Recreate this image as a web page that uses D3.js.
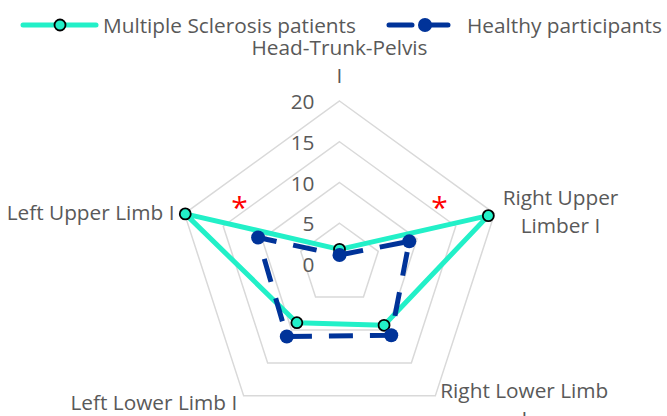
<!DOCTYPE html>
<html><head><meta charset="utf-8">
<script src="https://cdn.jsdelivr.net/npm/d3@7"></script>
<style>html,body{margin:0;padding:0;background:#fff;}svg{display:block;}</style>
</head><body>
<script>
const categories = ["Head-Trunk-Pelvis I", "Right Upper Limber I", "Right Lower Limb I", "Left Lower Limb I", "Left Upper Limb I"];
const labelLines = [["Head-Trunk-Pelvis", "I"], ["Right Upper", "Limber I"], ["Right Lower Limb", "I"], ["Left Lower Limb I"], ["Left Upper Limb I"]];
const seriesNames = ["Multiple Sclerosis patients", "Healthy participants"];
const msValues = [1.8, 19.2, 9.3, 8.9, 19.9];
const healthyValues = [1.1, 9.0, 10.8, 11.0, 10.5];
const tickValues = [0, 5, 10, 15, 20];
const significant = ["Right Upper Limber I", "Left Upper Limb I"];

const W = 667, H = 416;
const cx = 339.5, cy = 264, R = 163;
const MS_COLOR = "#22F0C8", H_COLOR = "#003399", TXT = "#595959";
const FONT = "'Open Sans', sans-serif";

const svg = d3.select("body").append("svg").attr("width", W).attr("height", H);

// font size fitted so text widths mimic the original
const probe = svg.append("text").attr("font-family", FONT).attr("font-size", 24).text("Healthy participants");
const fs = 24 * 195 / probe.node().getComputedTextLength();
probe.remove();

const r = d3.scaleLinear().domain([0, 20]).range([0, R]);
const angle = d3.scalePoint().domain(categories).range([0, 2 * Math.PI * 4 / 5]);
const pt = (cat, v, off = 0) => {
  const a = angle(cat) + off;
  return [cx + r(v) * Math.sin(a), cy - r(v) * Math.cos(a)];
};

// grid rings
const g = svg.append("g");
tickValues.filter(t => t > 0).forEach(t => {
  g.append("path")
    .attr("d", d3.line()(categories.map(c => pt(c, t))) + "Z")
    .attr("fill", "none").attr("stroke", "#d9d9d9").attr("stroke-width", 1.5);
});

// tick labels
g.selectAll(".tick").data(tickValues).join("text")
  .attr("x", cx - 25).attr("y", d => cy - r(d))
  .attr("text-anchor", "end").attr("dominant-baseline", "central")
  .attr("font-family", FONT).attr("font-size", fs).attr("fill", TXT)
  .text(d => d);

// series
function drawSeries(values, color, dashed, markerR, markerStroke) {
  const pts = categories.map((c, i) => pt(c, values[i]));
  svg.append("path")
    .attr("d", d3.line()(pts) + "Z")
    .attr("fill", "none").attr("stroke", color).attr("stroke-width", 5)
    .attr("stroke-linejoin", "round")
    .attr("stroke-dasharray", dashed ? "24,17" : null);
  svg.append("g").selectAll("circle").data(pts).join("circle")
    .attr("cx", d => d[0]).attr("cy", d => d[1]).attr("r", markerR)
    .attr("fill", color)
    .attr("stroke", markerStroke || "none").attr("stroke-width", markerStroke ? 1.8 : 0);
}
drawSeries(msValues, MS_COLOR, false, 5.5, "#000");
drawSeries(healthyValues, H_COLOR, true, 7, null);

// axis labels
const lineH = 28;
const labelPos = [
  {dx: 0, dy: -46, anchor: "middle"},
  {dx: 66, dy: -8.5, anchor: "middle"},
  {dx: 89, dy: 2.5, anchor: "middle"},
  {dx: -6.5, dy: 14, anchor: "end"},
  {dx: -10, dy: 6.5, anchor: "end"}
];
categories.forEach((c, i) => {
  const [vx, vy] = pt(c, 20);
  const t = svg.append("text")
    .attr("font-family", FONT).attr("font-size", fs).attr("fill", TXT)
    .attr("text-anchor", labelPos[i].anchor);
  labelLines[i].forEach((ln, j) => {
    t.append("tspan").attr("x", vx + labelPos[i].dx).attr("y", vy + labelPos[i].dy + j * lineH).text(ln);
  });
});

// significance asterisks
significant.forEach(c => {
  const off = angle(c) < Math.PI ? -0.27 : 0.27;
  const [x, y] = pt(c, 14.7, off);
  const t = svg.append("text").attr("font-family", FONT).attr("font-size", 30)
    .attr("fill", "#ff0000").attr("text-anchor", "middle").attr("x", x).attr("y", y).text("*");
  const bb = t.node().getBBox();
  // glyph sits high; shift so the visible star is centred on the point
  t.attr("y", y + (y - (bb.y + bb.height * 0.3)));
});

// legend
const legend = [
  {name: seriesNames[0], color: MS_COLOR, x1: 23, x2: 96, mx: 60, dashed: false, mr: 5.5, ms: "#000", tx: 103},
  {name: seriesNames[1], color: H_COLOR, x1: 389, x2: 454, mx: 425, dashed: true, mr: 7, ms: null, tx: 467}
];
const ly = 25;
legend.forEach(l => {
  svg.append("line").attr("x1", l.x1).attr("x2", l.x2).attr("y1", ly).attr("y2", ly)
    .attr("stroke", l.color).attr("stroke-width", 5).attr("stroke-linecap", "round")
    .attr("stroke-dasharray", l.dashed ? "23,13" : null);
  svg.append("circle").attr("cx", l.mx).attr("cy", ly).attr("r", l.mr).attr("fill", l.color)
    .attr("stroke", l.ms || "none").attr("stroke-width", l.ms ? 1.8 : 0);
  svg.append("text").attr("x", l.tx).attr("y", ly).attr("dominant-baseline", "central")
    .attr("font-family", FONT).attr("font-size", fs).attr("fill", TXT).text(l.name);
});
</script>
</body></html>
